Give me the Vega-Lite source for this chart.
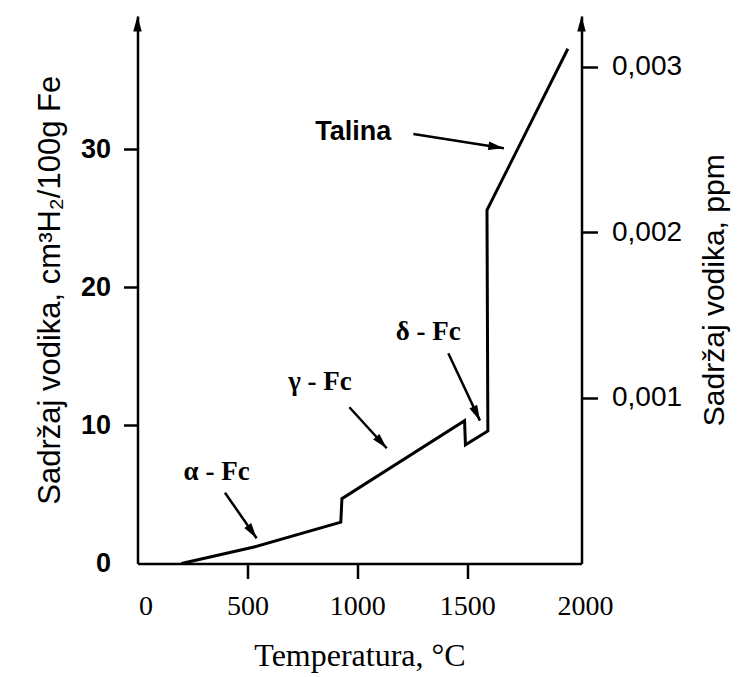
{
  "$schema": "https://vega.github.io/schema/vega-lite/v6.json",
  "width": 444,
  "height": 547.5,
  "autosize": {"type": "none"},
  "padding": {"left": 137.5, "top": 16, "right": 162.5, "bottom": 113.5},
  "background": "white",
  "config": {"view": {"stroke": null}},
  "datasets": {
    "curve": [
      {"T": 200, "H": 0},
      {"T": 530, "H": 1.2},
      {"T": 925, "H": 3.0},
      {"T": 930, "H": 4.7},
      {"T": 1488, "H": 10.35},
      {"T": 1492, "H": 8.6},
      {"T": 1594, "H": 9.6},
      {"T": 1590, "H": 25.6},
      {"T": 1958, "H": 37.3}
    ],
    "notes": [
      {"label": "α - Fc", "font": "serif", "tx": 360, "ty": 6.65, "T1": 398, "H1": 5.13, "T2": 542, "H2": 1.83},
      {"label": "γ - Fc", "font": "serif", "tx": 830, "ty": 13.17, "T1": 964, "H1": 11.32, "T2": 1134, "H2": 8.35},
      {"label": "δ - Fc", "font": "serif", "tx": 1323, "ty": 16.8, "T1": 1414, "H1": 15.23, "T2": 1558, "H2": 10.35},
      {"label": "Talina", "font": "sans", "tx": 982, "ty": 31.29, "T1": 1255, "H1": 31.12, "T2": 1667, "H2": 30.09}
    ],
    "ppm": [{"ppm": 0}, {"ppm": 0.003}]
  },
  "layer": [
    {
      "layer": [
        {
          "data": {"name": "curve"},
          "mark": {"type": "line", "color": "black", "strokeWidth": 3, "strokeJoin": "miter"},
          "encoding": {
            "x": {
              "field": "T", "type": "quantitative",
              "scale": {"domain": [0, 2020], "nice": false, "zero": true},
              "axis": {
                "orient": "bottom",
                "values": [0, 500, 1000, 1500, 2000],
                "format": "d",
                "grid": false,
                "domainColor": "black", "domainWidth": 2.5,
                "tickColor": "black", "tickWidth": 2.5, "tickSize": 15,
                "tickOpacity": {"condition": {"test": "datum.value == 0 || datum.value == 2000", "value": 0}, "value": 1},
                "labelFlush": false,
                "labelOffset": {"condition": {"test": "datum.value == 0 || datum.value == 2000", "value": 8}, "value": 0},
                "labelFont": "Liberation Serif", "labelFontSize": 28, "labelColor": "black", "labelPadding": 14,
                "title": "Temperatura, °C",
                "titleFont": "Liberation Serif", "titleFontSize": 32, "titleFontWeight": "normal", "titleColor": "black", "titlePadding": 20
              }
            },
            "y": {
              "field": "H", "type": "quantitative",
              "scale": {"domain": [0, 39.67], "nice": false},
              "axis": {
                "orient": "left",
                "values": [0, 10, 20, 30],
                "grid": false,
                "domainColor": "black", "domainWidth": 2.5,
                "tickColor": "black", "tickWidth": 2.5, "tickSize": 14,
                "tickOpacity": {"condition": {"test": "datum.value == 0", "value": 0}, "value": 1},
                "labelFont": "Liberation Sans", "labelFontSize": 27, "labelFontWeight": "bold", "labelColor": "black", "labelPadding": 13,
                "title": "Sadržaj vodika, cm³H₂/100g Fe",
                "titleFont": "Liberation Sans", "titleFontSize": 31, "titleFontWeight": "normal", "titleColor": "black", "titlePadding": 14
              }
            },
            "order": {"value": null}
          }
        },
        {
          "data": {"name": "notes"},
          "mark": {"type": "rule", "color": "black", "strokeWidth": 2.5},
          "encoding": {
            "x": {"field": "T1", "type": "quantitative"},
            "y": {"field": "H1", "type": "quantitative"},
            "x2": {"field": "T2"},
            "y2": {"field": "H2"}
          }
        },
        {
          "data": {"name": "notes"},
          "transform": [
            {"calculate": "atan2((datum.T2 - datum.T1) * 0.2198, (datum.H2 - datum.H1) * 13.8) * 180 / PI", "as": "dir"}
          ],
          "mark": {"type": "point", "shape": "M0,0L-0.6,2.2L0.6,2.2Z", "filled": true, "color": "black", "opacity": 1, "size": 200},
          "encoding": {
            "x": {"field": "T2", "type": "quantitative"},
            "y": {"field": "H2", "type": "quantitative"},
            "angle": {"field": "dir", "type": "quantitative", "scale": null}
          }
        },
        {
          "data": {"name": "notes"},
          "transform": [{"filter": "datum.font == 'serif'"}],
          "mark": {"type": "text", "font": "Liberation Serif", "fontSize": 27, "fontWeight": "bold", "color": "black", "align": "center", "baseline": "middle"},
          "encoding": {
            "x": {"field": "tx", "type": "quantitative"},
            "y": {"field": "ty", "type": "quantitative"},
            "text": {"field": "label"}
          }
        },
        {
          "data": {"name": "notes"},
          "transform": [{"filter": "datum.font == 'sans'"}],
          "mark": {"type": "text", "font": "Liberation Sans", "fontSize": 27, "fontWeight": "bold", "color": "black", "align": "center", "baseline": "middle"},
          "encoding": {
            "x": {"field": "tx", "type": "quantitative"},
            "y": {"field": "ty", "type": "quantitative"},
            "text": {"field": "label"}
          }
        },
        {
          "data": {"values": [{}]},
          "mark": {"type": "point", "shape": "M0,0L-0.6,2.2L0.6,2.2Z", "filled": true, "color": "black", "opacity": 1, "size": 200},
          "encoding": {
            "x": {"datum": 0, "type": "quantitative"},
            "y": {"datum": 39.67, "type": "quantitative"}
          }
        },
        {
          "data": {"values": [{}]},
          "mark": {"type": "point", "shape": "M0,0L-0.6,2.2L0.6,2.2Z", "filled": true, "color": "black", "opacity": 1, "size": 200},
          "encoding": {
            "x": {"datum": 2020, "type": "quantitative"},
            "y": {"datum": 39.67, "type": "quantitative"}
          }
        }
      ]
    },
    {
      "data": {"name": "ppm"},
      "mark": {"type": "point", "opacity": 0},
      "encoding": {
        "y": {
          "field": "ppm", "type": "quantitative",
          "scale": {"domain": [0, 0.003306], "nice": false},
          "axis": {
            "orient": "right",
            "values": [0.001, 0.002, 0.003],
            "grid": false,
            "domainColor": "black", "domainWidth": 2.5,
            "tickColor": "black", "tickWidth": 2.5, "tickSize": 16,
            "labelExpr": "replace(format(datum.value, '.3f'), '.', ',')",
            "labelFont": "Liberation Sans", "labelFontSize": 28, "labelColor": "black", "labelPadding": 14,
            "title": "Sadržaj vodika,  ppm",
            "titleAngle": 270, "titleBaseline": "top",
            "titleFont": "Liberation Sans", "titleFontSize": 30, "titleFontWeight": "normal", "titleColor": "black", "titlePadding": 18
          }
        }
      }
    }
  ],
  "resolve": {"scale": {"y": "independent"}}
}
